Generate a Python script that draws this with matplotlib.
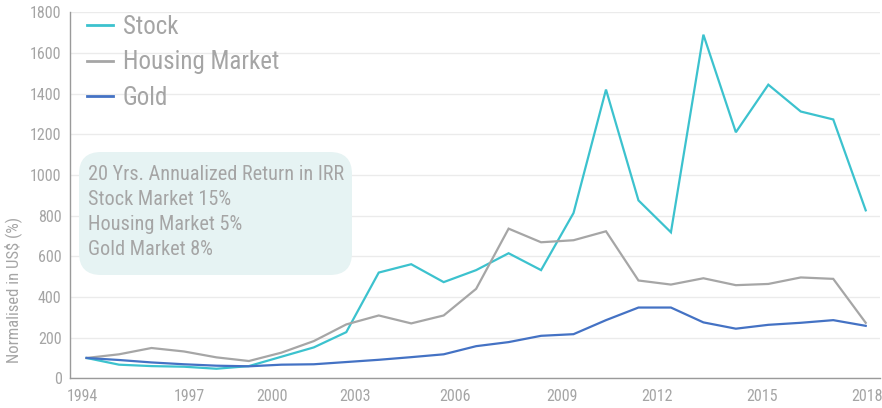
import matplotlib
matplotlib.use("Agg")
import matplotlib.pyplot as plt
from matplotlib.patches import FancyBboxPatch

# ---- data ----
years = list(range(1994, 2019))
stock = [100, 67, 60, 57, 47, 60, 106, 152, 227, 520, 561, 473, 532, 615, 532,
         813, 1420, 875, 718, 1690, 1210, 1444, 1312, 1273, 826]
housing = [100, 118, 149, 132, 103, 85, 126, 183, 265, 309, 270, 309, 440, 736, 669,
           679, 723, 481, 461, 492, 458, 464, 496, 489, 273]
gold = [100, 90, 78, 69, 62, 59, 67, 69, 80, 91, 104, 118, 158, 178, 209,
        217, 286, 348, 348, 275, 244, 263, 273, 286, 258]
tick_labels = ["1994", "1997", "2000", "2003", "2006", "2009", "2012", "2015", "2018"]
series_names = ["Stock", "Housing Market", "Gold"]
box_lines = ["20 Yrs. Annualized Return in IRR", "Stock Market 15%",
             "Housing Market 5%", "Gold Market 8%"]
y_label = "Normalised in US$ (%)"

# ---- layout / style ----
tick_pos = [1993.86, 1997.18, 1999.7, 2002.27, 2005.35, 2008.64, 2011.56, 2014.8, 2018.03]
FONT = ["Roboto Condensed", "Liberation Sans", "DejaVu Sans"]
plt.rcParams["font.family"] = FONT
TXT = "#A5A5A5"
colors = ["#3CC2CE", "#A6A6A6", "#4472C4"]

W, H = 882, 408
fig = plt.figure(figsize=(W / 100, H / 100), dpi=100)
ax = fig.add_axes([70 / W, (H - 378.3) / H, 810 / W, (378.3 - 12.3) / H])

for vals, c, name in zip([stock, housing, gold], colors, series_names):
    ax.plot(years, vals, color=c, lw=1.6, label=name, solid_joinstyle="miter")

ax.set_xlim(1993.49, 2018.44)
ax.set_ylim(0, 1800)
ax.set_yticks(range(0, 1801, 200))
ax.set_xticks(tick_pos)
ax.set_xticklabels(tick_labels)
ax.grid(axis="y", color="#EBEBEB", lw=1)
ax.set_axisbelow(True)
for s in ["top", "right"]:
    ax.spines[s].set_visible(False)
for s in ["left", "bottom"]:
    ax.spines[s].set_color("#9A9A9A")
    ax.spines[s].set_linewidth(1)
ax.tick_params(axis="both", length=0, colors=TXT, labelsize=11.5)
ax.tick_params(axis="y", pad=6)
ax.tick_params(axis="x", pad=8)

ax.set_ylabel(y_label, color=TXT, fontsize=12)
ax.yaxis.set_label_coords(-0.059, 0.241)

leg = ax.legend(loc="upper left", bbox_to_anchor=(87 / W, 1 - 15 / H),
                bbox_transform=fig.transFigure, frameon=False,
                fontsize=18, labelcolor=TXT, handlelength=1.05,
                handletextpad=0.38, labelspacing=0.46, borderaxespad=0,
                borderpad=0)
for l in leg.get_lines():
    l.set_linewidth(2)

# annotation box (figure pixel coords)
bx0, bx1, by0, by1 = 79, 352, 152, 275
box = FancyBboxPatch((bx0 / W, 1 - by1 / H), (bx1 - bx0) / W, (by1 - by0) / H,
                     boxstyle="round,pad=0,rounding_size=0.025",
                     transform=fig.transFigure, facecolor="#E6F3F3",
                     edgecolor="none", mutation_aspect=W / H, zorder=1)
fig.patches.append(box)
for i, t in enumerate(box_lines):
    fig.text(88 / W, 1 - (174 + 25 * i) / H, t, color=TXT, fontsize=14.6,
             va="center", ha="left", zorder=3)

fig.savefig("out.png", dpi=100)
